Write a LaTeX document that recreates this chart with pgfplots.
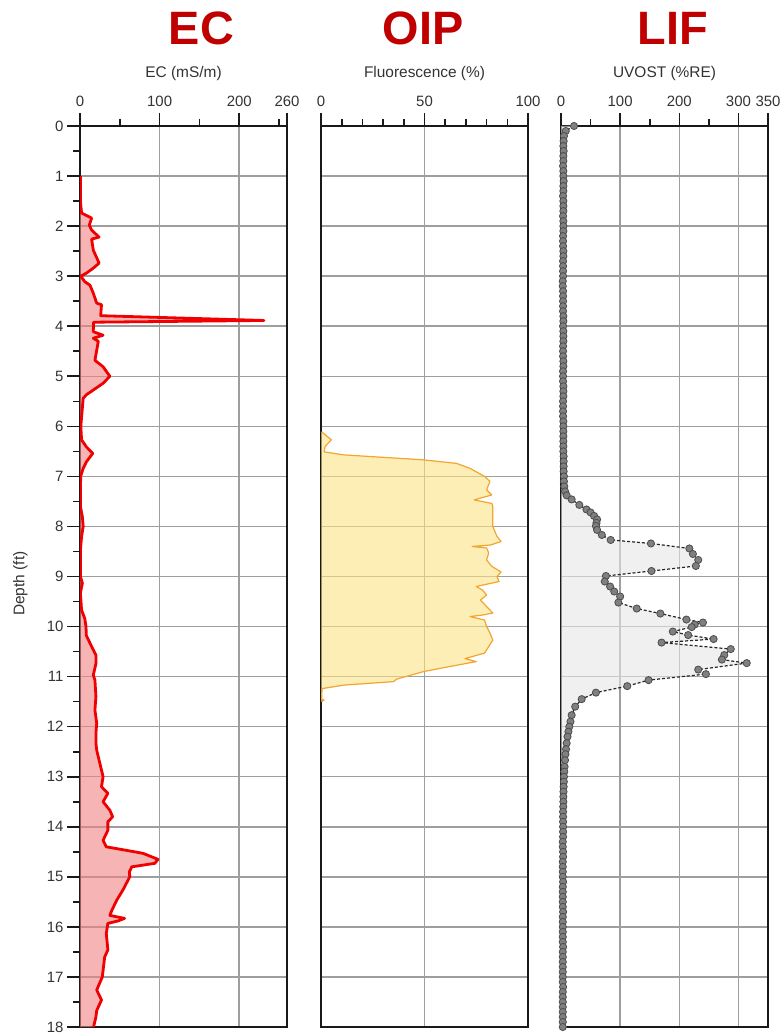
\documentclass[border=0pt]{standalone}
\usepackage{pgfplots}
\pgfplotsset{compat=1.18}
\usepackage{fontspec}
\setmainfont{Liberation Sans}
\definecolor{titlered}{HTML}{C00000}
\definecolor{ecline}{HTML}{F00000}
\definecolor{ecfill}{HTML}{F08282}
\definecolor{oipline}{HTML}{F2A531}
\definecolor{oipfill}{HTML}{FBE285}
\definecolor{liffill}{HTML}{E6E6E6}
\definecolor{txt}{HTML}{333333}

\pgfplotsset{
  logstyle/.style={
    scale only axis, height=901bp,
    y dir=reverse, ymin=0, ymax=18, ytick={0,...,18},
    axis line style={line width=1.9bp, black!90},
    every tick/.style={line width=1.6bp, black!90},
    major tick length=13bp, minor tick length=7bp,
    tick align=outside,
    xtick pos=right, xticklabel pos=right,
    grid=major, major grid style={line width=1.5bp, black!38},
    /pgf/number format/assume math mode=true,
    tick label style={font=\fontsize{15}{18}\selectfont, text=txt},
    xticklabel style={yshift=3bp},
    label style={font=\fontsize{15.5}{18}\selectfont, text=txt},
    xlabel style={at={(axis description cs:0.5,1)}, anchor=base, yshift=48.5bp},
  }
}

\pgfplotstableread{
v d
0.5 1.0
0.5 1.5
2 1.74
14.6 1.84
11.7 1.98
14.6 2.08
24 2.22
14.6 2.26
16.7 2.48
24 2.74
16.7 2.84
8 2.94
1 3.0
6 3.11
12.5 3.18
16.7 3.34
21 3.54
27 3.57
26 3.79
231 3.885
17 3.92
16.7 4.11
29 4.18
16.7 4.24
23 4.30
18.75 4.68
29 4.81
37.5 5.0
29 5.14
8 5.37
4 5.44
2 5.81
1 6.0
2 6.27
8 6.41
16 6.54
8 6.71
4 6.84
1 6.99
0.5 7.2
0.5 7.6
3 7.81
4 8.0
2 8.2
0.5 8.48
0.5 9.0
3 9.13
0.5 9.33
2 9.67
6 9.84
7.5 10.0
8 10.18
14.6 10.4
20 10.57
20 10.74
16.7 10.97
18.75 11.07
20 11.4
18.75 11.67
21 11.93
20 12.13
20 12.33
21 12.47
24 12.67
29 13.0
27 13.2
35 13.33
29 13.5
37.5 13.67
41 13.8
35 13.9
35 14.07
29 14.27
33 14.4
58 14.47
79 14.53
98 14.65
94 14.73
65 14.8
62 14.9
62.5 15.0
54 15.26
46 15.47
40 15.67
37.5 15.77
56 15.83
48 15.88
35 15.93
33 16.13
35 16.46
31 16.6
28 17.0
21 17.26
27 17.46
21 17.67
20 17.8
17 18.0
}\ecdata

\pgfplotstableread{
v d
0.3 6.11
5 6.27
2 6.40
1.5 6.51
11 6.57
49.5 6.67
65.5 6.74
72 6.84
79 7.0
81.6 7.1
80 7.27
82.5 7.37
74 7.47
82.5 7.54
83 7.6
83 8.0
85 8.2
87 8.3
82 8.37
73 8.4
80 8.43
81 8.53
80 8.67
82.6 8.8
87 8.91
85 9.0
86 9.1
75 9.2
78 9.27
80 9.37
77 9.47
80 9.6
83 9.73
78 9.77
72 9.8
79 9.87
80 10.0
81.6 10.13
83 10.27
81 10.4
79 10.53
69.6 10.64
75 10.7
62 10.8
49.5 10.9
36.6 11.05
35 11.1
11 11.17
0.5 11.24
0.3 11.45
1.5 11.47
0.3 11.5
}\oipdata

\pgfplotstableread{
v d
22 0.0
8 0.1
5 0.2
4.5 0.3
4 0.4
4.5 0.5
4 0.6
4 0.7
3.5 0.8
4 0.9
4 1.0
4.5 1.1
4 1.2
4 1.3
3.5 1.4
4 1.5
4 1.6
4 1.7
3.5 1.8
4 1.9
4 2.0
4 2.1
3.5 2.2
3.5 2.3
3.5 2.4
4 2.5
4 2.6
3.5 2.7
3.5 2.8
3.5 2.9
3.5 3.0
3 3.1
3 3.2
3.5 3.3
3.5 3.4
3.5 3.5
3.5 3.6
3.5 3.7
4 3.8
4 3.9
3.5 4.0
4 4.1
4 4.2
4 4.3
3.5 4.4
3.5 4.5
3.5 4.6
4 4.7
4 4.8
3.5 4.9
3.5 5.0
3.5 5.1
4 5.2
4 5.3
4 5.4
3.5 5.5
3.5 5.6
3.5 5.7
3.5 5.8
4 5.9
4 6.0
4 6.1
4 6.2
4 6.3
4 6.4
4 6.5
4.5 6.6
4.5 6.7
4.5 6.8
4.5 6.9
5 7.0
5 7.1
5.5 7.2
6.8 7.3
9.6 7.38
18 7.46
31 7.57
43 7.66
50 7.72
56 7.79
61 7.86
60 7.93
59 7.99
61 8.07
69 8.17
84 8.27
152 8.34
217 8.44
223 8.55
232 8.67
228 8.79
153 8.89
76 8.99
74 9.1
83 9.2
90 9.3
100 9.4
97 9.52
128 9.64
168 9.74
212 9.86
240 9.92
226 9.96
221 10.01
189 10.1
215 10.17
258 10.25
170 10.32
287 10.45
276 10.57
272 10.66
314 10.73
232 10.86
245 10.95
148 11.07
112 11.19
59 11.32
35 11.45
24 11.6
18 11.77
16 11.9
14 12.0
12.5 12.1
11 12.2
9.6 12.33
8.5 12.45
7.5 12.55
6.8 12.67
6 12.8
5.5 12.9
5 13.0
4.8 13.1
4.5 13.2
4.2 13.3
4 13.4
4 13.5
3.8 13.6
3.5 13.7
3.5 13.8
3.5 13.9
3.5 14.0
3.5 14.1
3.5 14.2
3 14.3
3 14.4
3.5 14.5
3.5 14.6
3 14.7
3 14.8
3 14.9
3 15.0
3.5 15.1
3 15.2
3 15.3
3 15.4
3 15.5
3 15.6
3.5 15.7
3 15.8
3 15.9
3 16.0
3 16.1
3 16.2
3 16.3
3.5 16.4
3 16.5
3 16.6
3 16.7
3 16.8
3 16.9
3 17.0
3 17.1
3.5 17.2
3 17.3
3 17.4
3 17.5
3 17.6
3 17.7
3 17.8
3 17.9
3 18.0
}\lifdata

\begin{document}
\begin{tikzpicture}[x=1bp,y=1bp]
\useasboundingbox (0,0) rectangle (782,1035);

% ---------- EC ----------
\begin{axis}[logstyle, at={(80bp,8bp)}, anchor=south west, width=207bp,
  xmin=0, xmax=260, xtick={0,100,200,260}, minor xtick={50,150,250},
  ytick pos=left, minor y tick num=1,
  xlabel={EC (mS/m)}, ylabel={Depth (ft)},
  ylabel style={at={(axis description cs:-0.288,0.492)}, anchor=center},
]
\addplot[draw=none, fill=ecfill, fill opacity=0.6] table[x=v,y=d] {\ecdata} -- (axis cs:0,18) -- (axis cs:0,1) -- cycle;
\addplot[ecline, line width=2.8bp, line join=round] table[x=v,y=d] {\ecdata};
\end{axis}

% ---------- OIP ----------
\begin{axis}[logstyle, at={(321bp,8bp)}, anchor=south west, width=207bp,
  xmin=0, xmax=100, xtick={0,50,100}, minor xtick={10,20,30,40,60,70,80,90},
  ytick style={draw=none}, yticklabels={},
  xlabel={Fluorescence (\%)},
]
\addplot[draw=none, fill=oipfill, fill opacity=0.6] table[x=v,y=d] {\oipdata} -- (axis cs:0,11.5) -- (axis cs:0,6.11) -- cycle;
\addplot[oipline, line width=1.2bp, line join=round] table[x=v,y=d] {\oipdata};
\end{axis}

% ---------- LIF ----------
\begin{axis}[logstyle, at={(561bp,8bp)}, anchor=south west, width=207bp,
  xmin=0, xmax=350, xtick={0,100,200,300,350}, minor xtick={50,150,250},
  ytick style={draw=none}, yticklabels={},
  xlabel={UVOST (\%RE)},
]
\addplot[draw=none, fill=liffill, fill opacity=0.6] table[x=v,y=d] {\lifdata} -- (axis cs:0,18) -- (axis cs:0,0) -- cycle;
\addplot[black!85, densely dashed, line width=1.2bp, mark=*, mark size=3.6bp,
  mark options={solid, fill=black!50, draw=black!70, line width=0.8bp}] table[x=v,y=d] {\lifdata};
\end{axis}

% ---------- titles ----------
\node[anchor=base, text=titlered, font=\fontsize{47}{50}\selectfont\bfseries] at (201.5,990) {EC};
\node[anchor=base, text=titlered, font=\fontsize{47}{50}\selectfont\bfseries] at (423,990) {OIP};
\node[anchor=base, text=titlered, font=\fontsize{47}{50}\selectfont\bfseries] at (673,990) {LIF};
\end{tikzpicture}
\end{document}
